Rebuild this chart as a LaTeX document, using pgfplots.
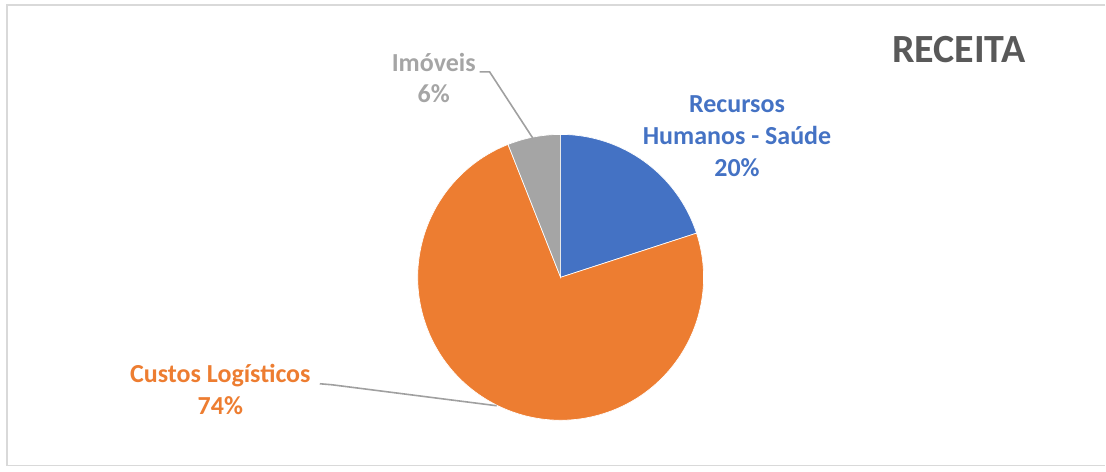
\documentclass[border=0pt]{standalone}
\usepackage{pgfplots}
\pgfplotsset{compat=1.18}
\usepackage{pgfplotstable}
\usepackage{fontspec}
\setmainfont{Carlito}

\definecolor{rhblue}{HTML}{4472C4}
\definecolor{custorange}{HTML}{ED7D31}
\definecolor{imogray}{HTML}{A5A5A5}
\definecolor{titlegray}{HTML}{595959}
\definecolor{leader}{HTML}{A0A0A0}
\definecolor{frame}{HTML}{D9D9D9}

% shares of the pie, in the order Excel draws them (clockwise from the top)
\pgfplotstableread{
share slice
20 recursos
74 custos
6  imoveis
}\piedata

\begin{document}
\begin{tikzpicture}
\pgfplotstablegetelem{0}{share}\of\piedata \let\va\pgfplotsretval
\pgfplotstablegetelem{1}{share}\of\piedata \let\vb\pgfplotsretval
\pgfplotstablegetelem{2}{share}\of\piedata \let\vc\pgfplotsretval
\pgfmathsetmacro{\aA}{90}
\pgfmathsetmacro{\aB}{\aA-3.6*\va}
\pgfmathsetmacro{\aC}{\aB-3.6*\vb}
\pgfmathsetmacro{\aD}{\aC-3.6*\vc}
\def\cx{561}\def\cy{194.5}\def\rr{143}
\begin{axis}[
    x=0.75pt, y=0.75pt,
    xmin=0, xmax=1106, ymin=0, ymax=472,
    scale only axis, hide axis, clip=false,
    disabledatascaling,
  ]
  \path (axis cs:0,0) rectangle (axis cs:1106,472);
  % chart frame
  \draw[frame, line width=1.1pt] (axis cs:1106,467) -- (axis cs:7,467)
       -- (axis cs:7,6) -- (axis cs:1106,6);

  % slices
  \filldraw[fill=rhblue, draw=white, line width=0.5pt]
    (axis cs:\cx,\cy) -- ++(\aA:\rr) arc[start angle=\aA, end angle=\aB, radius=\rr] -- cycle;
  \filldraw[fill=custorange, draw=white, line width=0.5pt]
    (axis cs:\cx,\cy) -- ++(\aB:\rr) arc[start angle=\aB, end angle=\aC, radius=\rr] -- cycle;
  \filldraw[fill=imogray, draw=white, line width=0.5pt]
    (axis cs:\cx,\cy) -- ++(\aC:\rr) arc[start angle=\aC, end angle=\aD, radius=\rr] -- cycle;

  % leader lines
  \draw[leader, line width=1.2pt] (axis cs:480,400) -- (axis cs:490,400) -- (axis cs:533,334);
  \draw[leader, line width=1.2pt] (axis cs:320,88) -- (axis cs:332,87) -- (axis cs:497,66);

  % title
  \node[anchor=base, text=titlegray, font=\fontsize{30}{36}\selectfont\bfseries]
    at (axis cs:959.5,409) {RECEITA};

  % data labels
  \begin{scope}[every node/.style={anchor=base, font=\fontsize{19.5}{23}\selectfont\bfseries}]
    \node[text=rhblue] at (axis cs:737.5,359) {Recursos};
    \node[text=rhblue] at (axis cs:737.5,327) {Humanos - Saúde};
    \node[text=rhblue] at (axis cs:737.5,295) {\va\%};
    \node[text=imogray] at (axis cs:434,400) {Imóveis};
    \node[text=imogray] at (axis cs:434,369) {\vc\%};
    \node[text=custorange] at (axis cs:220.5,89) {Custos Logísticos};
    \node[text=custorange] at (axis cs:220.5,57) {\vb\%};
  \end{scope}
\end{axis}
\end{tikzpicture}
\end{document}
